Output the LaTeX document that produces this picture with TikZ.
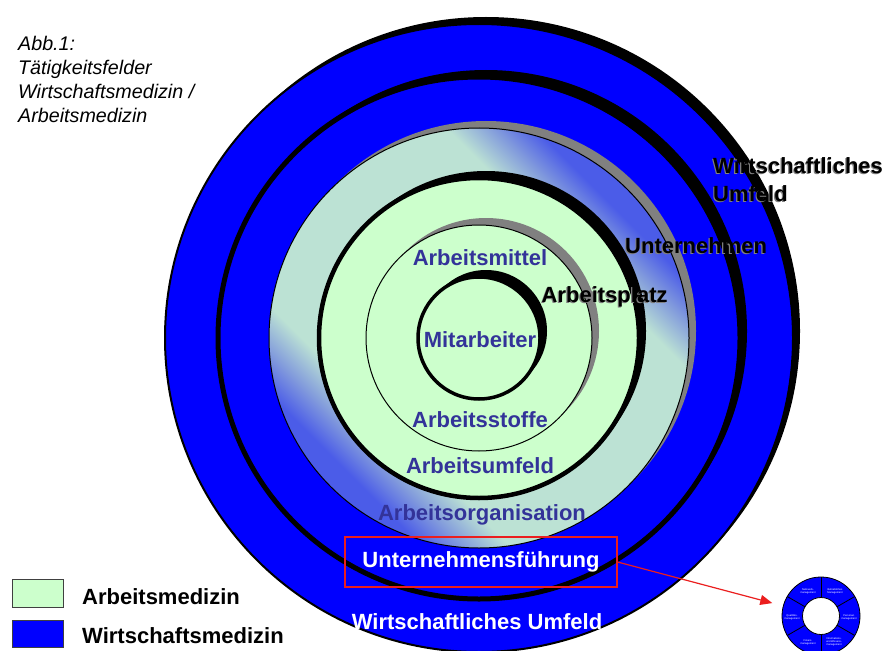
\documentclass[tikz,border=0pt]{standalone}
\usepackage{fontspec}
\setmainfont{Liberation Sans}
\usetikzlibrary{arrows.meta,calc}
\definecolor{wblue}{RGB}{0,0,255}
\definecolor{agreen}{RGB}{204,255,204}
\definecolor{txtblue}{RGB}{51,51,153}
\definecolor{shgray}{RGB}{128,128,128}
\definecolor{gblue}{RGB}{75,92,232}
\definecolor{gmid}{RGB}{130,155,220}
\definecolor{gpale}{RGB}{188,226,212}
\definecolor{boxred}{RGB}{235,30,30}
\pgfdeclarehorizontalshading{ringshade}{100bp}{color(0bp)=(gblue); color(27.5bp)=(gblue); color(31bp)=(gmid); color(35bp)=(gpale); color(65bp)=(gpale); color(69bp)=(gmid); color(72.5bp)=(gblue); color(100bp)=(gblue)}
\begin{document}
\begin{tikzpicture}[x=1pt,y=-1pt,
  lbl/.style={font=\fontsize{22}{28}\selectfont\bfseries, inner sep=0},
  bluelbl/.style={lbl, text=txtblue, anchor=base},
  whitelbl/.style={lbl, text=white},
  blacklbl/.style={lbl, text=black, anchor=base west},
  shadowlbl/.style={lbl, text=shgray, anchor=base west},
  legbox/.style={draw=black!75, line width=1, minimum width=51, minimum height=28, anchor=north west, inner sep=0},
  donutlbl/.style={font=\fontsize{2.6}{3}\selectfont, text=white, align=center, inner sep=0},
  shadowfill/.style={fill=black},
  grayshadow/.style={fill=shgray}]
\useasboundingbox (0,0) rectangle (896,650);
\fill[white] (0,0) rectangle (896,650);

\coordinate (C) at (479,338);
\coordinate (S) at (486,331);

% ring 1: Wirtschaftliches Umfeld
\fill[shadowfill] (S) circle[radius=314];
\draw[fill=wblue, line width=2] (C) circle[radius=314];
% ring 2: Unternehmen
\fill[shadowfill] (S) circle[radius=261];
\draw[fill=wblue, line width=5] (C) circle[radius=261];
% disc 3: Arbeitsorganisation (gradient)
\fill[grayshadow] (S) circle[radius=210];
\shade[shading=ringshade, shading angle=45] (C) circle[radius=210];
\draw[line width=1] (C) circle[radius=210];
% disc 4: Arbeitsumfeld
\fill[shadowfill] (S) circle[radius=160];
\draw[fill=agreen, line width=4.5] (C) circle[radius=160];
% disc 5: Arbeitsplatz
\fill[grayshadow] (S) circle[radius=113];
\draw[fill=agreen, line width=1] (C) circle[radius=113];
% disc 6: Mitarbeiter
\fill[shadowfill] (S) circle[radius=61];
\draw[fill=agreen, line width=3.5] (C) circle[radius=61];

% inner labels
\node[bluelbl] (mittel) at (480,265) {Arbeitsmittel};
\node[bluelbl] (mitarb) at (480,347) {Mitarbeiter};
\node[bluelbl] (stoffe) at (480,427) {Arbeitsstoffe};
\node[bluelbl] (aumfeld) at (480,473) {Arbeitsumfeld};
\node[bluelbl] (orga) at (482,520) {Arbeitsorganisation};
\node[whitelbl, anchor=base] (wumfeld) at (477,629) {Wirtschaftliches Umfeld};
\node[whitelbl, draw=boxred, line width=1.2, minimum width=272, minimum height=50] (uf) at (481,562) {Unternehmensführung};

% black labels with gray shadow
\node[shadowlbl, align=left, anchor=north west] (wsS) at (711.8,158.2) {Wirtschaftliches\\Umfeld};
\node[blacklbl, align=left, anchor=north west] (ws) at (713,157) {Wirtschaftliches\\Umfeld};
\node[shadowlbl] (untS) at (623.8,254.2) {Unternehmen};
\node[blacklbl] (unt) at (625,253) {Unternehmen};
\node[shadowlbl] (platzS) at (540.3,303.2) {Arbeitsplatz};
\node[blacklbl] (platz) at (541.5,302) {Arbeitsplatz};

% title
\node[anchor=north west, align=left, inner sep=0, font=\fontsize{19.7}{23.8}\selectfont\itshape] (title) at (18,36.5) {Abb.1:\\Tätigkeitsfelder\\Wirtschaftsmedizin /\\Arbeitsmedizin};

% legend
\node[legbox, fill=agreen] (legA) at (12,579) {};
\node[legbox, fill=wblue, minimum height=27] (legW) at (12,620) {};
\node[lbl, anchor=base west] (legAt) at (82,604) {Arbeitsmedizin};
\node[lbl, anchor=base west] (legWt) at (82,643) {Wirtschaftsmedizin};

% small management wheel
\node[circle, draw, fill=wblue, line width=0.8, minimum size=78, inner sep=0] (donut) at (821,616) {};
\node[circle, draw, fill=white, line width=0.8, minimum size=37, inner sep=0] (hole) at (donut) {};
\foreach \a in {30,90,150,210,270,330}
  \draw[line width=0.8] ($(donut)+(\a:18.5)$) -- ($(donut)+(\a:39)$);
\node[donutlbl] (d1) at (808,591) {Netzwerk-\\management};
\node[donutlbl] (d2) at (835,591) {Betriebliches\\Management};
\node[donutlbl] (d3) at (849,617) {Personal-\\management};
\node[donutlbl] (d4) at (834,642) {Informations-\\und Wissens-\\management};
\node[donutlbl] (d5) at (808,642) {Finanz-\\management};
\node[donutlbl] (d6) at (792,617) {Qualitäts-\\management};

% arrow
\draw[boxred, line width=1.2, -{Triangle[length=12pt,width=10pt]}, shorten >=11pt] (uf.east) -- (donut);
\end{tikzpicture}
\end{document}
